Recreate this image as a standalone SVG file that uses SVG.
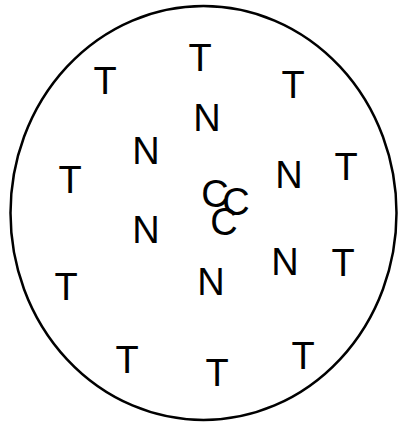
<svg xmlns="http://www.w3.org/2000/svg" width="401" height="423" viewBox="0 0 401 423">
<style>
text{font-family:"Liberation Sans",Arial,sans-serif;font-size:38px;fill:#000;text-anchor:middle}
.ring{fill:none;stroke:#000;stroke-width:2.5}
</style>
<rect width="401" height="423" fill="#fff"/>
<g id="boundary"><ellipse class="ring" cx="203.5" cy="213" rx="193" ry="207"/></g>
<g id="connectors"></g>
<g id="T1"><text x="200" y="71">T</text></g>
<g id="T2"><text x="105" y="94">T</text></g>
<g id="T3"><text x="293" y="98">T</text></g>
<g id="T4"><text x="70" y="193">T</text></g>
<g id="T5"><text x="346" y="180">T</text></g>
<g id="T6"><text x="66" y="300">T</text></g>
<g id="T7"><text x="343" y="276">T</text></g>
<g id="T8"><text x="127" y="373">T</text></g>
<g id="T9"><text x="217" y="386">T</text></g>
<g id="T10"><text x="303" y="369">T</text></g>
<g id="N1"><text x="207" y="131">N</text></g>
<g id="N2"><text x="146" y="164">N</text></g>
<g id="N3"><text x="289" y="188">N</text></g>
<g id="N4"><text x="146" y="243">N</text></g>
<g id="N5"><text x="285" y="275">N</text></g>
<g id="N6"><text x="211" y="295">N</text></g>
<g id="C1"><text x="215" y="207">C</text></g>
<g id="C2"><text x="236" y="215">C</text></g>
<g id="C3"><text x="224" y="235">C</text></g>
</svg>
